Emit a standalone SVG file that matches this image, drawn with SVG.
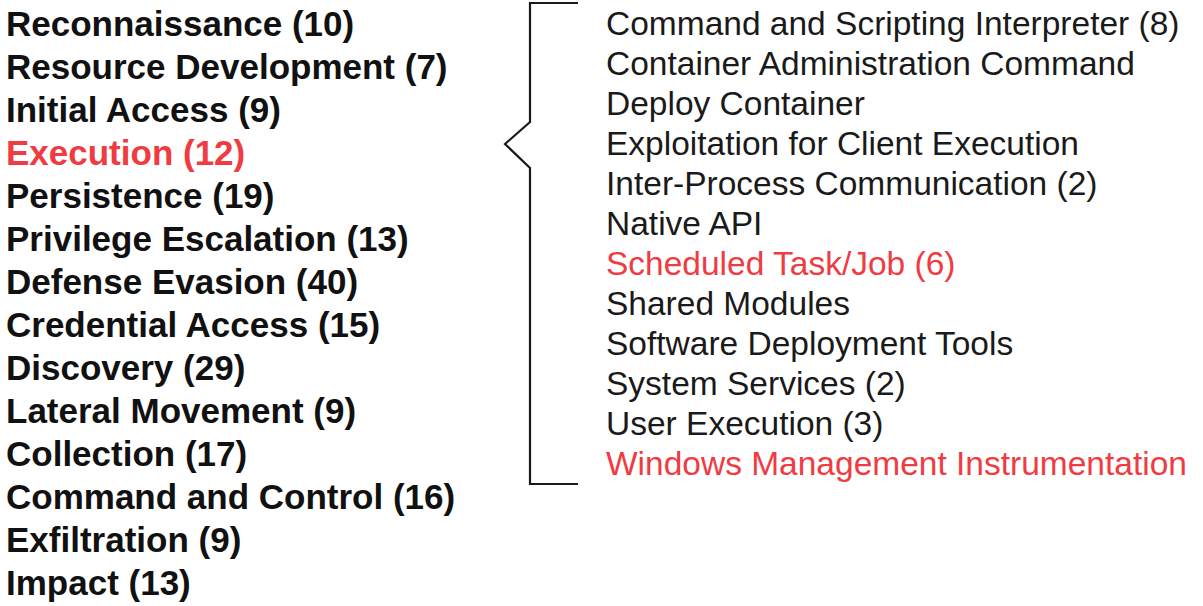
<svg xmlns="http://www.w3.org/2000/svg" width="1203" height="606" viewBox="0 0 1203 606">
<style>
.t{font-family:"Liberation Sans",Arial,sans-serif;font-weight:bold;font-size:35px;fill:#111}
.s{font-family:"Liberation Sans",Arial,sans-serif;font-size:33.5px;fill:#1a1a1a}
.r{fill:#ef3b41}
.b{fill:none;stroke:#1a1a1a;stroke-width:2.2}
</style>
<rect width="1203" height="606" fill="#fff"/>
<g id="tactics">
<text class="t" x="6" y="35.5">Reconnaissance (10)</text>
<text class="t" x="6" y="78.5">Resource Development (7)</text>
<text class="t" x="6" y="121.5">Initial Access (9)</text>
<text class="t r" x="6" y="164.5">Execution (12)</text>
<text class="t" x="6" y="207.5">Persistence (19)</text>
<text class="t" x="6" y="250.5">Privilege Escalation (13)</text>
<text class="t" x="6" y="293.5">Defense Evasion (40)</text>
<text class="t" x="6" y="336.5">Credential Access (15)</text>
<text class="t" x="6" y="379.5">Discovery (29)</text>
<text class="t" x="6" y="422.5">Lateral Movement (9)</text>
<text class="t" x="6" y="465.5">Collection (17)</text>
<text class="t" x="6" y="508.5">Command and Control (16)</text>
<text class="t" x="6" y="551.5">Exfiltration (9)</text>
<text class="t" x="6" y="594.5">Impact (13)</text>
</g>
<g id="connectors">
<path class="b" d="M578,3 H530 V122 L505,144 L530,168 V484 H578"/>
</g>
<g id="techniques">
<text class="s" x="606" y="35">Command and Scripting Interpreter (8)</text>
<text class="s" x="606" y="75">Container Administration Command</text>
<text class="s" x="606" y="115">Deploy Container</text>
<text class="s" x="606" y="155">Exploitation for Client Execution</text>
<text class="s" x="606" y="195">Inter-Process Communication (2)</text>
<text class="s" x="606" y="235">Native API</text>
<text class="s r" x="606" y="275">Scheduled Task/Job (6)</text>
<text class="s" x="606" y="315">Shared Modules</text>
<text class="s" x="606" y="355">Software Deployment Tools</text>
<text class="s" x="606" y="395">System Services (2)</text>
<text class="s" x="606" y="435">User Execution (3)</text>
<text class="s r" x="606" y="475">Windows Management Instrumentation</text>
</g>
</svg>
